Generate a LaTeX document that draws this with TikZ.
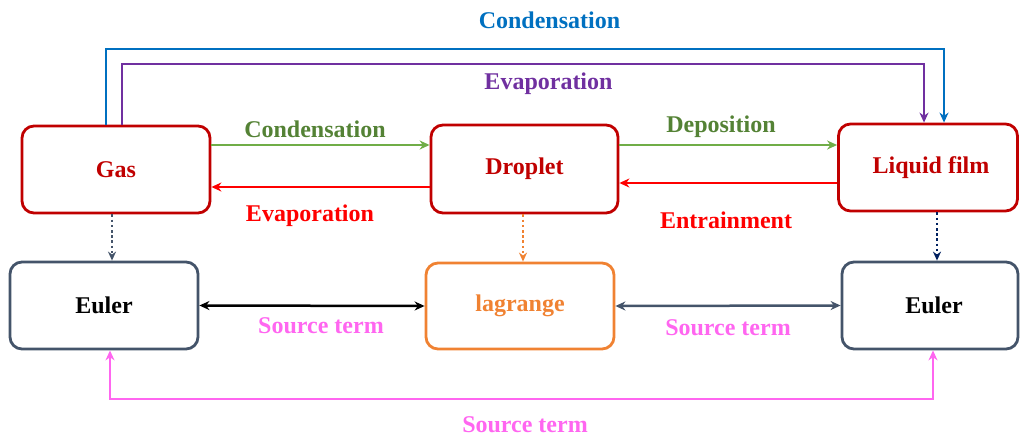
\documentclass[tikz,border=0pt]{standalone}
\usepackage{fontspec}
\setmainfont{Liberation Serif}
\usetikzlibrary{arrows.meta}
\definecolor{dred}{HTML}{C00000}
\definecolor{slate}{HTML}{44546A}
\definecolor{orng}{HTML}{F08232}
\definecolor{cblue}{HTML}{0070C0}
\definecolor{cpurple}{HTML}{7030A0}
\definecolor{garrow}{HTML}{70AD47}
\definecolor{gtext}{HTML}{548235}
\definecolor{cred}{HTML}{FF0000}
\definecolor{cpink}{HTML}{FF66F0}
\definecolor{navy}{HTML}{002060}
\tikzset{
  box/.style={draw=#1, rounded corners=12pt, line width=2.8pt, inner sep=0pt,
    font=\bfseries\fontsize{24}{28}\selectfont},
  lbl/.style={font=\bfseries\fontsize{24}{28}\selectfont, text=#1, inner sep=0pt},
  conn/.style={draw=#1, line width=2.5pt, -{Stealth[length=10pt,width=9pt]}},
  dconn/.style={draw=#1, line width=2.5pt, {Stealth[length=10pt,width=9pt]}-{Stealth[length=10pt,width=9pt]}},
  dotconn/.style={draw=#1, line width=2.6pt, dash pattern=on 2.6pt off 2.6pt, -{Stealth[length=9pt,width=8pt]}}
}
\begin{document}
\begin{tikzpicture}[x=1pt,y=-1pt]
\useasboundingbox (0,0) rectangle (1020,439);
% boxes
\node[box=dred, text=dred, minimum width=188pt, minimum height=87pt] (gas) at (116,169.5) {Gas};
\node[box=dred, text=dred, minimum width=187pt, minimum height=88pt] (drop) at (524.5,169) {Droplet};
\node[box=dred, text=dred, minimum width=179pt, minimum height=87pt] (film) at (928,167.5) {\hspace*{6pt}Liquid film};
\node[box=slate, text=black, minimum width=188pt, minimum height=87pt] (euL) at (104,305.5) {Euler};
\node[box=orng, text=orng, minimum width=188pt, minimum height=86pt] (lag) at (520,306) {lagrange};
\node[box=slate, text=black, minimum width=176pt, minimum height=87pt] (euR) at (930,305.5) {\hspace*{8pt}Euler};
% routing coordinates
\coordinate (b1) at (106,49);
\coordinate (b2) at (944,49);
\coordinate (v1) at (122,64);
\coordinate (v2) at (924,64);
\coordinate (p1) at (110,399);
\coordinate (p2) at (933,399);
\coordinate (d1) at (112,0);
\coordinate (d2) at (523,0);
\coordinate (d3) at (937,0);
% top connectors
\draw[conn=cblue] (gas.north -| b1) -- (b1) -- (b2) -- (film.north -| b2);
\draw[conn=cpurple] (gas.north -| v1) -- (v1) -- (v2) -- (film.north -| v2);
% horizontal connectors
\draw[conn=garrow] ([yshift=24.5pt]gas.east) -- ([yshift=24pt]drop.west);
\draw[conn=cred] ([yshift=-18pt]drop.west) -- ([yshift=-17.5pt]gas.east);
\draw[conn=garrow] ([yshift=24pt]drop.east) -- ([yshift=22.5pt]film.west);
\draw[conn=cred] ([yshift=-15.5pt]film.west) -- ([yshift=-14pt]drop.east);
% dotted connectors
\draw[dotconn=slate] (gas.south -| d1) -- (euL.north -| d1);
\draw[dotconn=orng] (drop.south -| d2) -- (lag.north -| d2);
\draw[dotconn=navy] (film.south -| d3) -- (euR.north -| d3);
% lower connectors
\draw[dconn=black] (euL.east) -- (lag.west);
\draw[dconn=slate] (lag.east) -- (euR.west);
\draw[dconn=cpink] (euL.south -| p1) -- (p1) -- (p2) -- (euR.south -| p2);
% labels
\node[lbl=cblue] (lc1) at (549.5,20) {Condensation};
\node[lbl=cpurple] (le1) at (548.5,84) {Evaporation};
\node[lbl=gtext] (lc2) at (315,129) {Condensation};
\node[lbl=cred] (le2) at (310,216) {Evaporation};
\node[lbl=gtext] (ld) at (721,127) {Deposition};
\node[lbl=cred] (len) at (726,220) {Entrainment};
\node[lbl=cpink] (ls1) at (321,326) {Source term};
\node[lbl=cpink] (ls2) at (728,328) {Source term};
\node[lbl=cpink] (ls3) at (525,425) {Source term};
\end{tikzpicture}
\end{document}
